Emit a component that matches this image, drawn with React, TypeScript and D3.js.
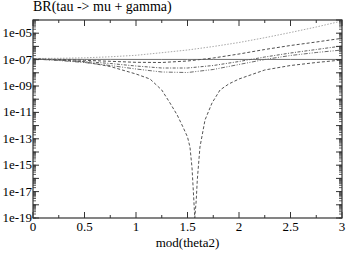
import React from "react";
import * as d3 from "d3";

const W = 346;
const H = 253;

const tGrid = [0, 0.25, 0.5, 0.75, 1, 1.25, 1.5, 1.75, 2, 2.25, 2.5, 2.75, 3];

const seriesDotted = [1.21e-7, 1.25e-7, 1.37e-7, 1.63e-7, 2.12e-7, 3.33e-7, 5.33e-7, 9.8e-7, 1.97e-6, 4.56e-6, 1.13e-5, 2.95e-5, 8.4e-5];
const seriesSolid = [1.05e-7, 1.05e-7, 1.04e-7, 1.04e-7, 1.03e-7, 1.03e-7, 1.03e-7, 1.03e-7, 1.03e-7, 1.03e-7, 1.03e-7, 1.03e-7, 1.03e-7];
const seriesDashed = [1.11e-7, 1.02e-7, 8.85e-8, 7.43e-8, 6.24e-8, 6.03e-8, 7.83e-8, 1.32e-7, 2.65e-7, 5.82e-7, 1.17e-6, 2.15e-6, 4.11e-6];
const seriesDashDot = [1.11e-7, 9.33e-8, 7.18e-8, 5.07e-8, 3.27e-8, 2.31e-8, 2.31e-8, 3.57e-8, 7.18e-8, 1.57e-7, 3.16e-7, 5.82e-7, 1.07e-6];
const seriesDashDot2 = [1.11e-7, 8.55e-8, 6.03e-8, 3.57e-8, 1.94e-8, 1.15e-8, 1.05e-8, 1.78e-8, 4.26e-8, 1.02e-7, 2.05e-7, 3.45e-7, 5.33e-7];

const tDip = [0, 0.25, 0.5, 0.75, 1.0, 1.136, 1.25, 1.33, 1.4, 1.456, 1.5, 1.524, 1.544, 1.556, 1.5708, 1.585, 1.595, 1.621, 1.67, 1.738, 1.816, 1.9, 2.0, 2.25, 2.5, 2.75, 3.0];
const seriesDip = [1.11e-7, 9.33e-8, 6.58e-8, 3.0e-8, 8.11e-9, 3.39e-9, 4.98e-10, 5.15e-11, 6.36e-12, 7.83e-13, 1.37e-13, 2.39e-14, 6.14e-16, 1.32e-17, 1e-19, 2.31e-18, 7.57e-17, 2.39e-14, 2.65e-12, 5.15e-11, 4.98e-10, 1.42e-9, 3.39e-9, 1.63e-8, 3.57e-8, 6.03e-8, 9.33e-8];

const xTicks = [0, 0.5, 1, 1.5, 2, 2.5, 3];
const xTickLabels = ["0", "0.5", "1", "1.5", "2", "2.5", "3"];
const yTickExps = [-19, -17, -15, -13, -11, -9, -7, -5];
const yTickLabels = ["1e-19", "1e-17", "1e-15", "1e-13", "1e-11", "1e-09", "1e-07", "1e-05"];

const title = "BR(tau -> mu + gamma)";
const xTitle = "mod(theta2)";

const M = { left: 33, right: 342, top: 20, bottom: 218 };
const FONT = "'Liberation Serif', 'Times New Roman', serif";

export default function App() {
  const x = d3.scaleLinear().domain([0, 3]).range([M.left, M.right]);
  const y = d3.scaleLog().domain([1e-19, 1e-4]).range([M.bottom, M.top]).clamp(true);

  const line = d3
    .line<[number, number]>()
    .x((d) => x(d[0]))
    .y((d) => y(d[1]));

  const mk = (ts: number[], vs: number[]) => line(ts.map((t, i) => [t, vs[i]] as [number, number])) || "";

  const series = [
    { d: mk(tGrid, seriesDotted), stroke: "#a8a8a8", dash: "1.5,1.5" },
    { d: mk(tGrid, seriesSolid), stroke: "#707070", dash: "" },
    { d: mk(tGrid, seriesDashed), stroke: "#505050", dash: "3,2" },
    { d: mk(tGrid, seriesDashDot), stroke: "#606060", dash: "3,1.5,1,1.5" },
    { d: mk(tGrid, seriesDashDot2), stroke: "#6a6a6a", dash: "4,1.5,1,1.5,1,1.5" },
    { d: mk(tDip, seriesDip), stroke: "#555555", dash: "3,2" },
  ];

  const xMinor = d3.range(0, 3.001, 0.25);
  const yMinor: number[] = [];
  for (let e = -19; e < -4; e++) {
    for (let k = 1; k < 10; k++) yMinor.push(k * Math.pow(10, e));
  }
  const decades = d3.range(-19, -3);

  const axisColor = "#333";
  const textStyle = { fontFamily: FONT };

  return (
    <svg width={W} height={H} style={{ position: "absolute", left: 0, top: 0, background: "#fff" }}>
      <rect x={0} y={0} width={W} height={H} fill="#fff" />
      <defs>
        <clipPath id="plotclip">
          <rect x={M.left} y={M.top} width={M.right - M.left} height={M.bottom - M.top} />
        </clipPath>
      </defs>
      <g clipPath="url(#plotclip)">
        {series.map((s, i) => (
          <path key={i} d={s.d} fill="none" stroke={s.stroke} strokeWidth={1} strokeDasharray={s.dash || undefined} />
        ))}
      </g>
      {xMinor.map((t, i) => {
        const major = Math.abs(t * 2 - Math.round(t * 2)) < 1e-6;
        const len = major ? 6 : 3;
        return (
          <g key={"xt" + i} stroke={axisColor} strokeWidth={1}>
            <line x1={x(t)} x2={x(t)} y1={M.bottom} y2={M.bottom - len} />
            <line x1={x(t)} x2={x(t)} y1={M.top} y2={M.top + len} />
          </g>
        );
      })}
      {yMinor.map((v, i) => {
        const yy = y(v);
        return (
          <g key={"ym" + i} stroke={axisColor} strokeWidth={0.8}>
            <line x1={M.left} x2={M.left + 3} y1={yy} y2={yy} />
            <line x1={M.right} x2={M.right - 3} y1={yy} y2={yy} />
          </g>
        );
      })}
      {decades.map((e) => {
        const yy = y(Math.pow(10, e));
        return (
          <g key={"yd" + e} stroke={axisColor} strokeWidth={1}>
            <line x1={M.left} x2={M.left + 6} y1={yy} y2={yy} />
            <line x1={M.right} x2={M.right - 6} y1={yy} y2={yy} />
          </g>
        );
      })}
      <rect
        x={M.left}
        y={M.top}
        width={M.right - M.left}
        height={M.bottom - M.top}
        fill="none"
        stroke={axisColor}
        strokeWidth={1.2}
      />
      {xTicks.map((t, i) => (
        <text key={"xl" + i} x={x(t)} y={231} textAnchor="middle" fontSize={13} fill="#000" style={textStyle}>
          {xTickLabels[i]}
        </text>
      ))}
      {yTickExps.map((e, i) => (
        <text key={"yl" + i} x={32} y={y(Math.pow(10, e)) + 4} textAnchor="end" fontSize={13} fill="#000" style={textStyle}>
          {yTickLabels[i]}
        </text>
      ))}
      <text x={33} y={11} fontSize={14} fill="#000" style={textStyle}>
        {title}
      </text>
      <text x={(M.left + M.right) / 2} y={247} textAnchor="middle" fontSize={13} fill="#000" style={textStyle}>
        {xTitle}
      </text>
    </svg>
  );
}
